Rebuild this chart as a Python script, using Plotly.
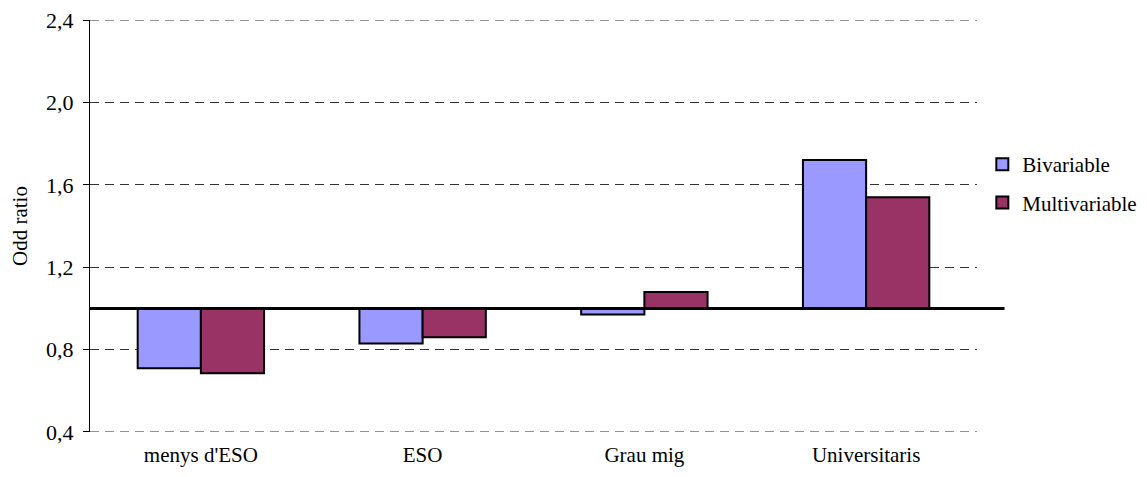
import plotly.graph_objects as go

categories = ["menys d'ESO", "ESO", "Grau mig", "Universitaris"]
bivariable = [0.71, 0.83, 0.97, 1.72]
multivariable = [0.685, 0.86, 1.08, 1.54]
tick_vals = [0.4, 0.8, 1.2, 1.6, 2.0, 2.4]
baseline = 1.0

fig = go.Figure()
fig.add_trace(go.Bar(
    name="Bivariable", x=categories, y=[v - baseline for v in bivariable], base=baseline,
    marker=dict(color="#9999FF", line=dict(color="black", width=2)), legendgroup="a"))
fig.add_trace(go.Bar(
    name="Multivariable", x=categories, y=[v - baseline for v in multivariable], base=baseline,
    marker=dict(color="#993366", line=dict(color="black", width=2)), legendgroup="b"))

# gridlines at the range ends (plotly hides them at the edges)
for tv in (tick_vals[0], tick_vals[-1]):
    fig.add_shape(type="line", xref="paper", yref="y", x0=0, x1=1, y0=tv, y1=tv,
                  line=dict(color="#333333", width=1, dash="9px,6px"), layer="below")

fig.add_shape(type="line", xref="paper", yref="y", x0=0, x1=1.031, y0=baseline, y1=baseline,
              line=dict(color="black", width=3))

fig.update_layout(
    width=1139, height=469,
    margin=dict(l=82, r=170, t=12, b=45, autoexpand=False),
    plot_bgcolor="white", paper_bgcolor="white",
    separators=",.",
    barmode="group", bargap=0.43, bargroupgap=0,
    font=dict(family="Liberation Serif", size=21, color="black"),
    legend=dict(x=1.006, y=0.603, xanchor="left", yanchor="middle",
                traceorder="grouped", tracegroupgap=8,
                font=dict(family="Liberation Serif", size=21)),
    showlegend=True,
)
fig.update_xaxes(showline=False, showgrid=False, ticks="", tickfont=dict(size=21),
                 ticklabelstandoff=8, automargin=False)
fig.update_yaxes(range=[0.3999, 2.4001], tickvals=tick_vals, tickformat=".1f",
                 showline=True, linecolor="black", linewidth=1,
                 ticks="outside", ticklen=6, tickcolor="black",
                 ticklabelstandoff=5, ticklabeloverflow="allow",
                 showgrid=True, gridcolor="#333333", griddash="9px,6px", gridwidth=1,
                 zeroline=False, automargin=False,
                 title=dict(text="Odd ratio", font=dict(size=21), standoff=17),
                 tickfont=dict(size=22))

fig.write_html("out.html")
